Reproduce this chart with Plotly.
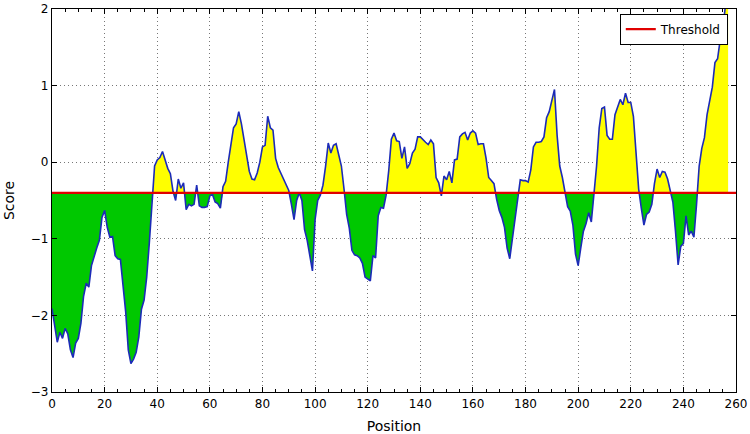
import numpy as np
import plotly.graph_objects as go

threshold = -0.4
positions = list(range(0, 258))
scores = [
    -1.91, -2.15, -2.35, -2.22, -2.30, -2.17, -2.24, -2.45, -2.55, -2.36,
    -2.30, -2.10, -1.75, -1.58, -1.63, -1.35, -1.22, -1.12, -1.02, -0.72,
    -0.63, -0.85, -0.98, -0.97, -1.22, -1.26, -1.27, -1.57, -1.95, -2.45,
    -2.63, -2.57, -2.48, -2.28, -1.92, -1.80, -1.50, -1.05, -0.48, -0.05,
    0.03, 0.06, 0.14, 0.02, -0.08, -0.15, -0.38, -0.50, -0.22, -0.34,
    -0.27, -0.62, -0.55, -0.57, -0.55, -0.30, -0.57, -0.59, -0.59, -0.58,
    -0.44, -0.42, -0.52, -0.54, -0.60, -0.32, -0.25, 0.00, 0.20, 0.45,
    0.50, 0.66, 0.50, 0.30, 0.08, -0.12, -0.22, -0.23, -0.14, 0.00,
    0.20, 0.22, 0.60, 0.45, 0.42, 0.05, -0.07, -0.15, -0.22, -0.30,
    -0.37, -0.55, -0.75, -0.50, -0.40, -0.50, -0.88, -1.02, -1.20, -1.42,
    -0.75, -0.50, -0.43, -0.30, -0.05, 0.25, 0.12, 0.22, 0.24, 0.10,
    -0.05, -0.35, -0.68, -0.86, -1.15, -1.21, -1.22, -1.25, -1.32, -1.50,
    -1.52, -1.55, -1.22, -1.25, -0.70, -0.59, -0.60, -0.43, -0.11, 0.30,
    0.38, 0.28, 0.27, 0.05, 0.20, -0.08, -0.02, 0.12, 0.17, 0.33,
    0.33, 0.29, 0.26, 0.23, 0.29, 0.24, -0.20, -0.27, -0.44, -0.18,
    -0.23, -0.12, -0.27, 0.03, 0.04, 0.33, 0.37, 0.39, 0.29, 0.38,
    0.41, 0.38, 0.23, 0.24, 0.24, 0.05, -0.20, -0.24, -0.28, -0.48,
    -0.63, -0.72, -0.85, -1.12, -1.26, -1.00, -0.72, -0.45, -0.23, -0.24,
    -0.24, -0.26, -0.10, 0.20, 0.26, 0.26, 0.27, 0.33, 0.58, 0.66,
    0.82, 0.95, 0.35, -0.05, -0.20, -0.38, -0.58, -0.64, -0.82, -1.20,
    -1.35, -1.12, -0.90, -0.80, -0.66, -0.78, -0.45, -0.05, 0.45, 0.70,
    0.72, 0.35, 0.30, 0.30, 0.62, 0.72, 0.82, 0.75, 0.90, 0.78,
    0.78, 0.60, 0.18, -0.35, -0.60, -0.82, -0.68, -0.65, -0.55, -0.28,
    -0.09, -0.20, -0.12, -0.13, -0.22, -0.36, -0.52, -0.90, -1.34, -1.10,
    -1.06, -0.70, -0.95, -0.90, -0.98, -0.55, -0.05, 0.18, 0.32, 0.62,
    0.80, 0.98, 1.30, 1.35, 1.60, 1.75, 2.05, 2.30,
]

# insert threshold crossing points so the two fills meet cleanly
x = np.array(positions, dtype=float)
y = np.array(scores, dtype=float)
xs, ys = [x[0]], [y[0]]
for i in range(1, len(x)):
    a, b = y[i - 1] - threshold, y[i] - threshold
    if a * b < 0:
        t = a / (a - b)
        xs.append(x[i - 1] + t * (x[i] - x[i - 1]))
        ys.append(threshold)
    xs.append(x[i])
    ys.append(y[i])
xs = np.array(xs)
ys = np.array(ys)
upper = np.maximum(ys, threshold)
lower = np.minimum(ys, threshold)
base = np.full_like(xs, threshold)

fig = go.Figure()
fig.add_trace(go.Scatter(x=xs, y=base, mode="lines", line=dict(width=0), showlegend=False, hoverinfo="skip"))
fig.add_trace(go.Scatter(x=xs, y=upper, mode="lines", line=dict(width=0), fill="tonexty",
                         fillcolor="#ffff00", showlegend=False, hoverinfo="skip"))
fig.add_trace(go.Scatter(x=xs, y=base, mode="lines", line=dict(width=0), showlegend=False, hoverinfo="skip"))
fig.add_trace(go.Scatter(x=xs, y=lower, mode="lines", line=dict(width=0), fill="tonexty",
                         fillcolor="#00c800", showlegend=False, hoverinfo="skip"))
fig.add_trace(go.Scatter(x=positions, y=scores, mode="lines", line=dict(color="#1c2bb8", width=1.6),
                         showlegend=False))
fig.add_trace(go.Scatter(x=[0, 260], y=[threshold, threshold], mode="lines",
                         line=dict(color="#e00000", width=2.2), name="Threshold"))

axis_common = dict(
    showline=True, linecolor="black", linewidth=1.3, mirror="ticks",
    ticks="inside", ticklen=5, tickcolor="black", automargin=False,
    showgrid=True, gridcolor="#777777", griddash="1px,3px", gridwidth=1,
    zeroline=False, tickfont=dict(family="DejaVu Sans", size=12, color="black"),
)
fig.update_xaxes(range=[0, 260], tick0=0, dtick=20,
                 minor=dict(dtick=5, ticks="inside", ticklen=3, tickcolor="black", showgrid=False),
                 title=dict(text="Position", font=dict(family="DejaVu Sans", size=14, color="black"), standoff=11),
                 **axis_common)
fig.update_yaxes(range=[-3, 2], tick0=-3, dtick=1,
                 title=dict(text="Score", font=dict(family="DejaVu Sans", size=14, color="black"), standoff=12),
                 **axis_common)

fig.update_layout(
    width=750, height=434,
    margin=dict(l=52, r=14, t=9, b=42),
    plot_bgcolor="white", paper_bgcolor="white",
    legend=dict(x=0.988, y=0.988, xanchor="right", yanchor="top",
                bordercolor="black", borderwidth=1, bgcolor="white",
                tracegroupgap=0, itemwidth=30,
                font=dict(family="DejaVu Sans", size=12, color="black")),
)

# remove the browser's default 8px body margin so the figure fills the window exactly
fig.write_html("out.html", config={"displayModeBar": False},
               post_script="document.body.style.margin='0';document.body.style.overflow='hidden';")
